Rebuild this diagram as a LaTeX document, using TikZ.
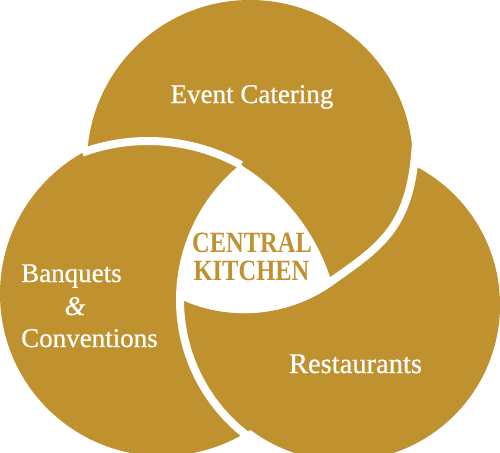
\documentclass[tikz,border=0pt]{standalone}
\usepackage{fontspec}
\setmainfont{Liberation Serif}
\newfontfamily\lblfont[FakeBold=0.6]{Liberation Serif}
\usepackage{graphicx}
\definecolor{gold}{RGB}{192,145,47}
\begin{document}
\begin{tikzpicture}[x=1pt,y=-1pt,
  lobe/.style={fill=gold},
  band/.style={draw=white,line width=8pt},
  lbl/.style={text=white,inner sep=0pt,font=\lblfont\fontsize{27}{30}\selectfont},
  core/.style={text=gold,inner sep=0pt,font=\bfseries\fontsize{24.5}{28}\selectfont}]
\useasboundingbox (0,0) rectangle (500,452);
\begin{scope}
\clip (0,0) rectangle (500,452);
% three lobes
\fill[lobe] (250,163) circle (163);
\fill[lobe] (162,294) circle (162);
\fill[lobe] (344,305) circle (156);
% white bands between lobes
\draw[band] (148,333) ++(250:192) arc[start angle=250,end angle=299,radius=192];
\draw[band] (416.5,130) .. controls (414,225) and (385,243.5) .. (330.6,281.8)
  arc[start angle=54.8,end angle=112,radius=149.5];
\draw[band] (351,300) ++(127:171) arc[start angle=127,end angle=182,radius=171];
% white core
\fill[white] (176,300) arc[start angle=180,end angle=231,radius=175]
  -- (242.3,165.9) arc[start angle=302,end angle=343.4,radius=210]
  -- (332.9,285) arc[start angle=54.8,end angle=115.8,radius=153.5] -- cycle;
\end{scope}
% labels
\node[lbl, anchor=base] (ev) at (252,103) {Event Catering};
\node[lbl, anchor=base west] (bq) at (21,282) {Banquets};
\node[lbl, anchor=base] (amp) at (75,315) {\itshape\&};
\node[lbl, anchor=base west] (cv) at (21,347) {Conventions};
\node[lbl, anchor=base, font=\lblfont\fontsize{28.5}{32}\selectfont] (rs) at (355.5,373) {Restaurants};
\node[core, anchor=base] (c1) at (252,252) {\scalebox{1}[1.2]{CENTRAL}};
\node[core, anchor=base] (c2) at (251.5,280) {\scalebox{1}[1.2]{KITCHEN}};
\end{tikzpicture}
\end{document}
